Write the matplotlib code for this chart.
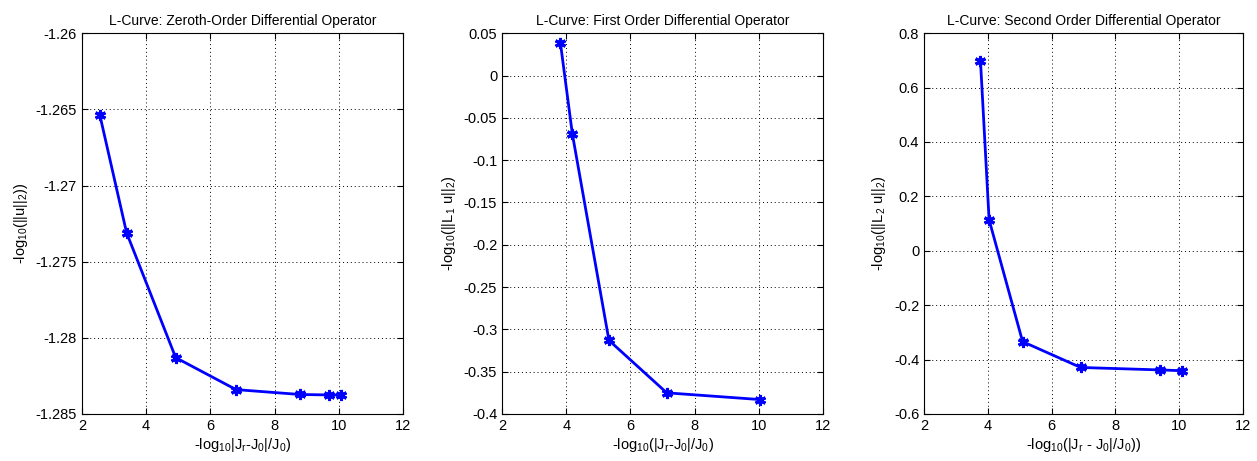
import matplotlib
matplotlib.use("Agg")
import matplotlib.pyplot as plt

plt.rcParams['font.family'] = ['Liberation Sans', 'DejaVu Sans']
plt.rcParams['mathtext.default'] = 'regular'

# Panel 1: zeroth order
x0 = [2.56, 3.39, 4.92, 6.80, 8.79, 9.69, 10.06]
y0 = [-1.2654, -1.2731, -1.2813, -1.2834, -1.28372, -1.28375, -1.28375]
# Panel 2: first order
x1 = [3.82, 4.19, 5.33, 7.13, 10.05]
y1 = [0.038, -0.069, -0.313, -0.375, -0.383]
# Panel 3: second order
x2 = [3.77, 4.04, 5.09, 6.91, 9.39, 10.10]
y2 = [0.698, 0.114, -0.334, -0.429, -0.438, -0.441]

titles = ['L-Curve: Zeroth-Order Differential Operator',
          'L-Curve: First Order Differential Operator',
          'L-Curve: Second Order Differential Operator']
xlabels = ['-log$_{10}$|J$_r$-J$_0$|/J$_0$)',
           '-log$_{10}$(|J$_r$-J$_0$|/J$_0$)',
           '-log$_{10}$(|J$_r$ - J$_0$|/J$_0$))']
ylabels = ['-log$_{10}$(||u||$_2$))',
           '-log$_{10}$(||L$_1$ u||$_2$)',
           '-log$_{10}$(||L$_2$ u||$_2$)']
xticks = [2, 4, 6, 8, 10, 12]
yticks_list = [
    [-1.285, -1.28, -1.275, -1.27, -1.265, -1.26],
    [-0.4, -0.35, -0.3, -0.25, -0.2, -0.15, -0.1, -0.05, 0, 0.05],
    [-0.6, -0.4, -0.2, 0, 0.2, 0.4, 0.6, 0.8],
]
ytick_labels = [
    ['-1.285', '-1.28', '-1.275', '-1.27', '-1.265', '-1.26'],
    ['-0.4', '-0.35', '-0.3', '-0.25', '-0.2', '-0.15', '-0.1', '-0.05', '0', '0.05'],
    ['-0.6', '-0.4', '-0.2', '0', '0.2', '0.4', '0.6', '0.8'],
]
data = [(x0, y0), (x1, y1), (x2, y2)]

fig = plt.figure(figsize=(12.57, 4.61), dpi=100)
positions = [[0.0652, 0.102, 0.2554, 0.826],
             [0.3994, 0.102, 0.2554, 0.826],
             [0.7351, 0.102, 0.2538, 0.826]]

star = (6, 2, 0)
for i in range(3):
    ax = fig.add_axes(positions[i])
    xs, ys = data[i]
    ax.plot(xs, ys, color='#0000ff', lw=2, marker=star, markersize=8, mew=2.2)
    ax.set_xlim(2, 12)
    ax.set_ylim(yticks_list[i][0], yticks_list[i][-1])
    ax.set_xticks(xticks)
    ax.set_xticklabels([str(t) for t in xticks])
    ax.set_yticks(yticks_list[i])
    ax.set_yticklabels(ytick_labels[i])
    ax.grid(True, linestyle=(0, (1, 3)), color='black', linewidth=0.7)
    ax.tick_params(direction='in', top=True, right=True, labelsize=10.5, length=4)
    ax.set_title(titles[i], fontsize=10, pad=6)
    ax.set_xlabel(xlabels[i], fontsize=10.5, labelpad=2)
    ax.set_ylabel(ylabels[i], fontsize=10.5, labelpad=4)
    for s in ax.spines.values():
        s.set_linewidth(0.8)

fig.savefig('out.png', dpi=100)
